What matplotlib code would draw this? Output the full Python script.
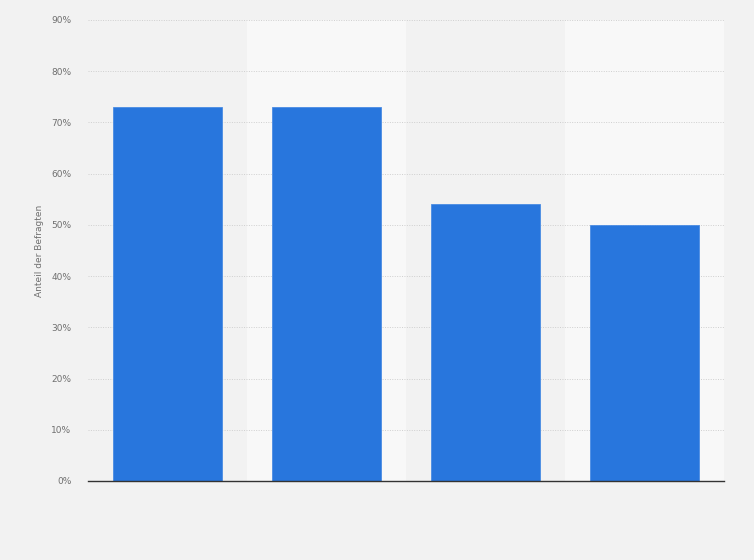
import matplotlib.pyplot as plt
import numpy as np

categories = ['A', 'B', 'C', 'D']
values = [73, 73, 54, 50]
y_ticks = [0, 10, 20, 30, 40, 50, 60, 70, 80, 90]
y_labels = [str(t) + '%' for t in y_ticks]

bg = '#f2f2f2'
band_light = '#f8f8f8'
bar_colour = '#2876dd'

fig = plt.figure(figsize=(7.54, 5.6), dpi=100)
fig.patch.set_facecolor(bg)
ax = fig.add_axes([88 / 754, 1 - 481 / 560, (724 - 88) / 754, (481 - 20) / 560])
ax.set_facecolor(bg)

x = np.arange(len(categories))

# alternating column bands
for i in x:
    if i % 2 == 1:
        ax.axvspan(i - 0.5, i + 0.5, color=band_light, zorder=0, linewidth=0)

ax.bar(x, values, width=0.686, color=bar_colour, edgecolor='#4a8ce3', linewidth=0.6, zorder=3)

ax.set_xlim(-0.5, len(categories) - 0.5)
ax.set_ylim(0, 90)
ax.set_yticks(y_ticks)
ax.set_yticklabels(y_labels, fontsize=6.5, color='#707070')
ax.set_xticks([])

ax.yaxis.grid(True, linestyle=(0, (1, 1.5)), color='#cfcfcf', linewidth=0.7, zorder=1)
ax.set_axisbelow(True)
ax.tick_params(axis='y', length=0, pad=12)

for side in ['top', 'right', 'left']:
    ax.spines[side].set_visible(False)
ax.spines['bottom'].set_color('#333333')
ax.spines['bottom'].set_linewidth(1.0)
ax.spines['bottom'].set_zorder(4)

ax.set_ylabel('Anteil der Befragten', fontsize=6.5, color='#707070', labelpad=5)

fig.savefig('out.png', dpi=100, facecolor=bg)
